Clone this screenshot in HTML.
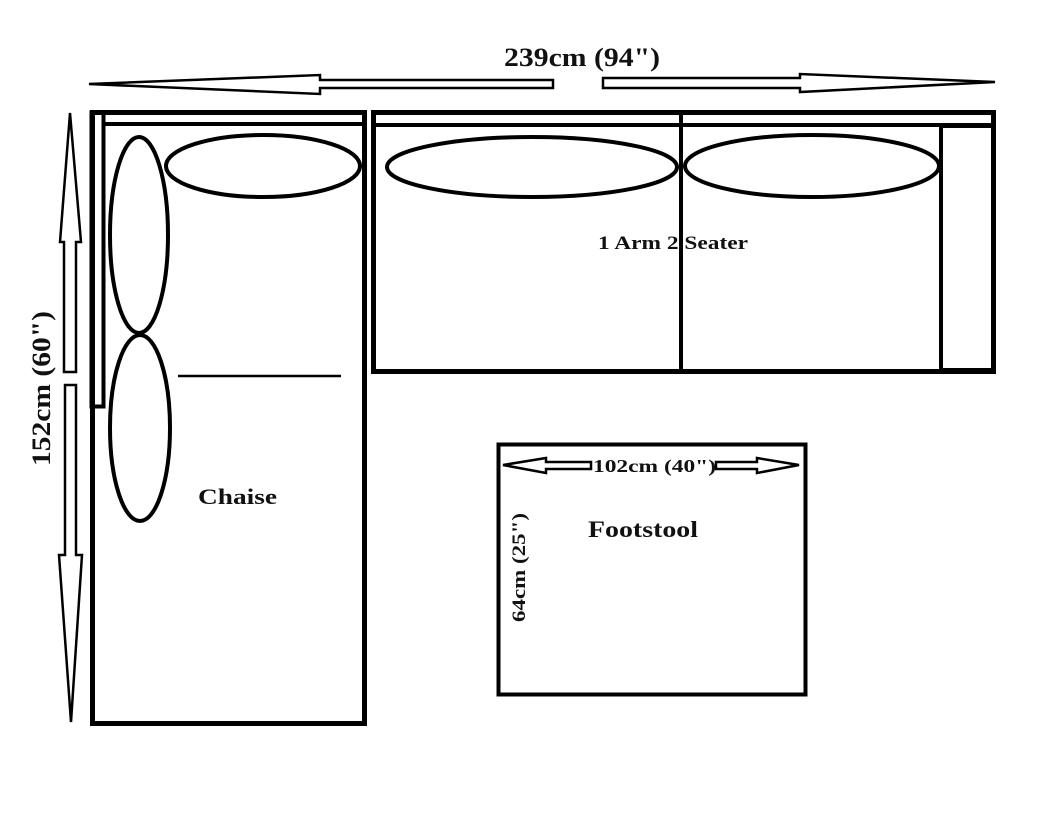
<!DOCTYPE html>
<html><head><style>html,body{margin:0;padding:0;background:#fff;}svg{display:block}</style></head>
<body>
<svg width="1055" height="834" viewBox="0 0 1055 834" xmlns="http://www.w3.org/2000/svg" font-family="Liberation Serif, serif" font-weight="bold">
<rect width="1055" height="834" fill="#fff"/>
<g fill="#fff" stroke="#000" stroke-width="2.5" stroke-linejoin="miter">
<polygon points="89,84 320,75 320,80 553,80 553,88 320,88 320,94"/>
<polygon points="603,78 800,78 800,74 995,82 800,92 800,88 603,88"/>
<polygon points="70,113 81,242 76,242 76,372 64,372 64,242 60,242"/>
<polygon points="65,385 76,385 76,555 82,555 71,722 59,555 65,555"/>
</g>
<g fill="none" stroke="#000">
<rect x="92.5" y="112.5" width="272" height="611" stroke-width="5"/>
<rect x="91.5" y="112.5" width="12" height="294" stroke-width="4"/>
<line x1="104" y1="124" x2="363" y2="124" stroke-width="4"/>
<line x1="178" y1="376" x2="341" y2="376" stroke-width="2.5"/>
<ellipse cx="263" cy="166" rx="97" ry="31" stroke-width="4"/>
<ellipse cx="139" cy="235" rx="29" ry="98" stroke-width="4"/>
<ellipse cx="140" cy="428" rx="30" ry="93" stroke-width="4"/>
<rect x="373.5" y="112.5" width="620" height="259" stroke-width="5"/>
<line x1="374" y1="125" x2="993" y2="125" stroke-width="4"/>
<line x1="681" y1="112" x2="681" y2="373" stroke-width="4"/>
<rect x="941" y="126" width="52" height="244" stroke-width="4"/>
<ellipse cx="532" cy="167" rx="145" ry="30" stroke-width="4"/>
<ellipse cx="812" cy="166" rx="127" ry="31" stroke-width="4"/>
<rect x="498.5" y="444.5" width="307" height="250" stroke-width="4"/>
</g>
<g fill="#fff" stroke="#000" stroke-width="2.5">
<polygon points="503,465 546,458 546,462 591,462 591,469 546,469 546,473"/>
<polygon points="716,462 757,462 757,458 799,465 757,473 757,469 716,469"/>
</g>
<g fill="#111">
<text x="504" y="66" font-size="26" textLength="156" lengthAdjust="spacingAndGlyphs">239cm (94")</text>
<text transform="translate(50,466) rotate(-90)" font-size="26" textLength="155" lengthAdjust="spacingAndGlyphs">152cm (60")</text>
<text x="198" y="504" font-size="22" textLength="79" lengthAdjust="spacingAndGlyphs">Chaise</text>
<text x="598" y="249" font-size="19" textLength="150" lengthAdjust="spacingAndGlyphs">1 Arm 2 Seater</text>
<text x="588" y="537" font-size="23" textLength="110" lengthAdjust="spacingAndGlyphs">Footstool</text>
<text x="593" y="472" font-size="18" textLength="123" lengthAdjust="spacingAndGlyphs">102cm (40")</text>
<text transform="translate(525,622) rotate(-90)" font-size="19" textLength="109" lengthAdjust="spacingAndGlyphs">64cm (25")</text>
</g>
</svg>
</body></html>
